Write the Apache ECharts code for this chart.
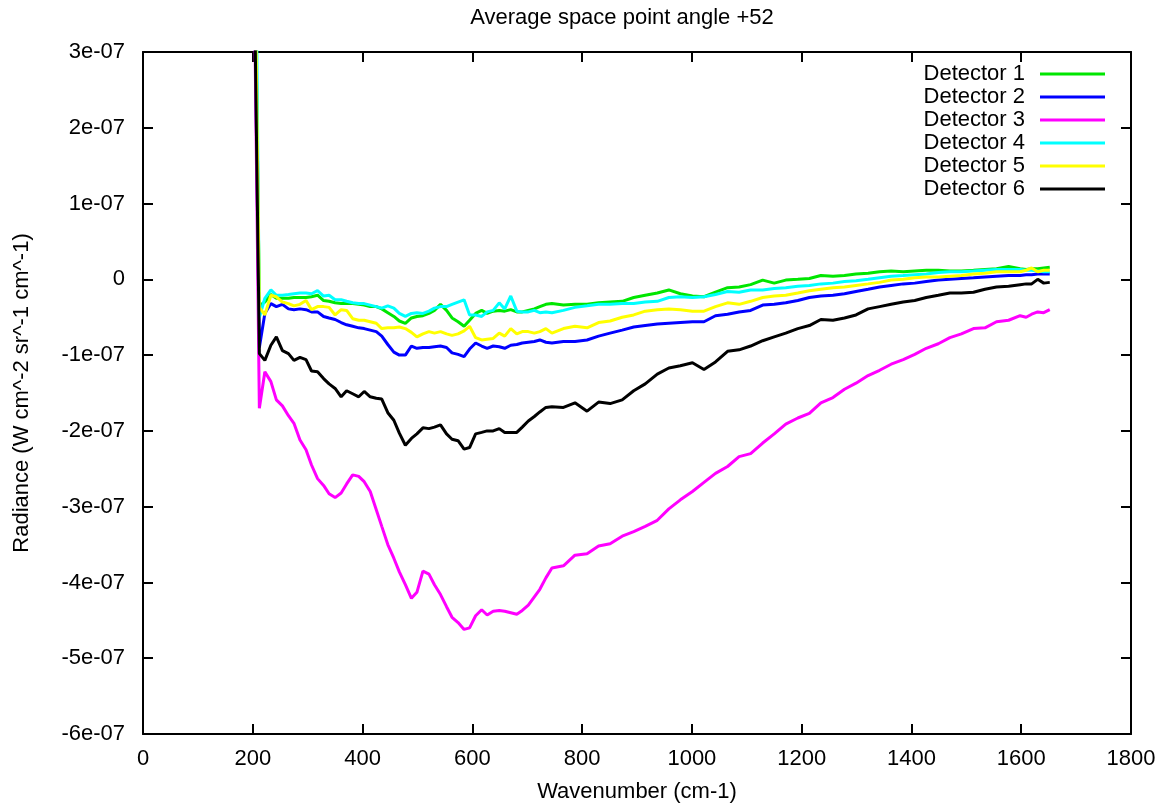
<!DOCTYPE html>
<html><head><meta charset="utf-8">
<script src="https://cdn.jsdelivr.net/npm/echarts@6/dist/echarts.min.js"></script>
<style>html,body{margin:0;padding:0;background:#fff}#c{width:1167px;height:808px}</style>
</head><body><div id="c"></div>
<script>
// Wavenumber (cm-1) sample positions
const wavenumber = [201,
 212,222,233,243,254,265,275,286,297,307,318,329,339,350,361,371,382,393,403,414,
 425,435,446,457,467,478,489,499,510,521,531,542,553,563,574,585,595,606,617,627,
 638,649,659,670,681,691,702,713,723,734,745,
 766,787,809,830,851,873,894,915,937,958,979,1001,1022,1043,1065,1086,1107,1129,1150,1171,
 1193,1214,1235,1257,1278,1299,1321,1342,1363,1385,1406,1427,1449,1470,1491,1513,1534,1555,1577,1598,
 1609,1619,1630,1641,1652];

// Radiance values in units of 1e-7 W cm^-2 sr^-1 cm^-1
const detector1 = [6,
 -0.35,-0.30,-0.20,-0.25,-0.25,-0.25,-0.24,-0.24,-0.24,-0.23,-0.21,-0.28,-0.29,-0.31,-0.32,-0.32,-0.32,-0.33,-0.34,-0.36,
 -0.36,-0.39,-0.44,-0.49,-0.55,-0.58,-0.51,-0.49,-0.48,-0.45,-0.41,-0.33,-0.41,-0.51,-0.56,-0.62,-0.54,-0.45,-0.41,-0.45,
 -0.42,-0.41,-0.42,-0.40,-0.43,-0.43,-0.41,-0.39,-0.36,-0.33,-0.32,
 -0.34,-0.33,-0.33,-0.31,-0.30,-0.29,-0.24,-0.21,-0.18,-0.14,-0.19,-0.22,-0.23,-0.17,-0.11,-0.10,-0.07,-0.01,-0.05,-0.01,
 0.00,0.01,0.05,0.04,0.05,0.07,0.08,0.10,0.11,0.10,0.11,0.12,0.12,0.11,0.11,0.12,0.13,0.14,0.17,0.14,
 0.13,0.14,0.14,0.15,0.16];
const detector2 = [5,
 -0.90,-0.45,-0.32,-0.36,-0.33,-0.39,-0.40,-0.39,-0.40,-0.43,-0.43,-0.49,-0.51,-0.53,-0.57,-0.60,-0.62,-0.64,-0.65,-0.67,
 -0.69,-0.75,-0.86,-0.96,-1.00,-1.00,-0.88,-0.91,-0.90,-0.90,-0.89,-0.88,-0.90,-0.97,-0.99,-1.02,-0.92,-0.84,-0.88,-0.91,
 -0.88,-0.89,-0.91,-0.87,-0.86,-0.84,-0.83,-0.82,-0.80,-0.83,-0.84,
 -0.82,-0.82,-0.80,-0.75,-0.71,-0.67,-0.63,-0.61,-0.59,-0.58,-0.57,-0.56,-0.56,-0.48,-0.46,-0.43,-0.41,-0.34,-0.33,-0.31,
 -0.28,-0.24,-0.22,-0.21,-0.19,-0.16,-0.13,-0.10,-0.08,-0.06,-0.05,-0.03,-0.01,0.00,0.01,0.02,0.03,0.04,0.05,0.05,
 0.06,0.06,0.07,0.07,0.07];
const detector3 = [5,
 -1.70,-1.22,-1.35,-1.59,-1.67,-1.80,-1.90,-2.12,-2.25,-2.45,-2.63,-2.72,-2.83,-2.88,-2.82,-2.70,-2.58,-2.60,-2.67,-2.80,
 -3.04,-3.26,-3.50,-3.68,-3.86,-4.03,-4.21,-4.13,-3.85,-3.89,-4.03,-4.16,-4.32,-4.46,-4.53,-4.62,-4.60,-4.44,-4.36,-4.43,
 -4.38,-4.37,-4.38,-4.40,-4.42,-4.37,-4.30,-4.19,-4.09,-3.94,-3.81,
 -3.78,-3.64,-3.62,-3.52,-3.49,-3.39,-3.33,-3.26,-3.18,-3.03,-2.91,-2.80,-2.68,-2.56,-2.47,-2.34,-2.30,-2.16,-2.04,-1.91,
 -1.83,-1.77,-1.63,-1.56,-1.45,-1.37,-1.27,-1.20,-1.12,-1.06,-0.99,-0.91,-0.85,-0.77,-0.72,-0.65,-0.64,-0.56,-0.54,-0.48,
 -0.50,-0.46,-0.43,-0.44,-0.40];
const detector4 = [8,
 -0.50,-0.25,-0.14,-0.21,-0.21,-0.20,-0.19,-0.18,-0.18,-0.19,-0.15,-0.22,-0.21,-0.27,-0.27,-0.29,-0.31,-0.32,-0.32,-0.34,
 -0.36,-0.38,-0.35,-0.38,-0.45,-0.49,-0.45,-0.44,-0.45,-0.42,-0.38,-0.36,-0.36,-0.33,-0.30,-0.27,-0.47,-0.47,-0.49,-0.43,
 -0.41,-0.31,-0.39,-0.22,-0.42,-0.43,-0.43,-0.41,-0.44,-0.43,-0.44,
 -0.41,-0.37,-0.35,-0.33,-0.33,-0.32,-0.32,-0.30,-0.29,-0.24,-0.23,-0.24,-0.23,-0.20,-0.16,-0.17,-0.14,-0.14,-0.12,-0.11,
 -0.09,-0.08,-0.06,-0.05,-0.03,-0.02,0.00,0.02,0.04,0.05,0.06,0.07,0.09,0.10,0.10,0.11,0.12,0.13,0.13,0.13,
 0.12,0.12,0.11,0.10,0.10];
const detector5 = [6,
 -0.37,-0.47,-0.21,-0.23,-0.30,-0.32,-0.35,-0.33,-0.28,-0.40,-0.36,-0.36,-0.37,-0.47,-0.40,-0.41,-0.52,-0.54,-0.54,-0.56,
 -0.58,-0.65,-0.64,-0.64,-0.63,-0.65,-0.70,-0.76,-0.72,-0.69,-0.71,-0.69,-0.72,-0.74,-0.72,-0.68,-0.62,-0.77,-0.80,-0.79,
 -0.78,-0.71,-0.75,-0.65,-0.72,-0.69,-0.69,-0.71,-0.69,-0.65,-0.71,
 -0.65,-0.62,-0.64,-0.57,-0.55,-0.50,-0.47,-0.42,-0.40,-0.39,-0.40,-0.42,-0.42,-0.36,-0.31,-0.33,-0.29,-0.24,-0.22,-0.21,
 -0.18,-0.15,-0.13,-0.11,-0.10,-0.08,-0.06,-0.04,-0.01,0.00,0.02,0.03,0.03,0.04,0.05,0.07,0.08,0.10,0.10,0.10,
 0.12,0.15,0.10,0.12,0.12];
const detector6 = [5,
 -0.98,-1.07,-0.87,-0.76,-0.94,-0.98,-1.07,-1.03,-1.06,-1.21,-1.22,-1.31,-1.38,-1.44,-1.55,-1.47,-1.51,-1.55,-1.48,-1.55,
 -1.57,-1.58,-1.76,-1.86,-2.03,-2.19,-2.10,-2.04,-1.96,-1.97,-1.95,-1.92,-2.04,-2.11,-2.13,-2.24,-2.22,-2.04,-2.02,-2.00,
 -2.00,-1.97,-2.02,-2.02,-2.02,-1.95,-1.87,-1.81,-1.75,-1.69,-1.68,
 -1.69,-1.63,-1.74,-1.62,-1.64,-1.59,-1.47,-1.38,-1.25,-1.17,-1.14,-1.10,-1.19,-1.09,-0.95,-0.93,-0.88,-0.81,-0.76,-0.71,
 -0.65,-0.61,-0.53,-0.54,-0.51,-0.47,-0.39,-0.36,-0.33,-0.30,-0.28,-0.24,-0.21,-0.18,-0.18,-0.17,-0.13,-0.10,-0.09,-0.07,
 -0.06,-0.06,0.00,-0.05,-0.04];

const UNIT = 1e-7;
const seriesNames = ['Detector 1','Detector 2','Detector 3','Detector 4','Detector 5','Detector 6'];
const seriesValues = [detector1, detector2, detector3, detector4, detector5, detector6];
const seriesColors = ['#00e600','#0000ff','#ff00ff','#00ffff','#ffff00','#000000'];
const titleText = 'Average space point angle +52';
const xName = 'Wavenumber (cm-1)';
const yName = 'Radiance (W cm^-2 sr^-1 cm^-1)';
const xMin = 0, xMax = 1800, xStep = 200;
const yMin = -6e-7, yMax = 3e-7, yStep = 1e-7;

const FONT = "'Liberation Sans', Arial, sans-serif";
const FS = 22;
const chart = echarts.init(document.getElementById('c'), null, {renderer: 'canvas'});

function yFmt(v) {
  const n = Math.round(v / UNIT);
  return n === 0 ? '0' : n + 'e-07';
}
function xFmt(v) { return String(Math.round(v)); }
const tick = {show: true, inside: true, length: 10, lineStyle: {color: '#000', width: 2}};
const line = {show: true, onZero: false, lineStyle: {color: '#000', width: 2}};
const lbl = {color: '#000', fontFamily: FONT, fontSize: FS};

chart.setOption({
  animation: false,
  backgroundColor: '#fff',
  graphic: [{type: 'text', x: 622, y: 18, style: {text: titleText, fill: '#000', font: FS + 'px ' + FONT, textAlign: 'center', textVerticalAlign: 'middle'}}],
  grid: {left: 143, right: 36, top: 52, bottom: 74, containLabel: false},
  legend: {
    orient: 'vertical', right: 62, top: 63, padding: 0,
    align: 'right', itemWidth: 65, itemHeight: 3, itemGap: 1, icon: 'rect',
    data: seriesNames,
    textStyle: {color: '#000', fontFamily: FONT, fontSize: FS, lineHeight: 20, padding: [0, 10, 0, 0]}
  },
  xAxis: [
    {type: 'value', min: xMin, max: xMax, interval: xStep, position: 'bottom',
     name: xName, nameLocation: 'middle', nameGap: 47, nameTextStyle: lbl,
     axisLine: line, axisTick: tick, axisLabel: Object.assign({margin: 14, formatter: xFmt}, lbl), splitLine: {show: false}},
    {type: 'value', min: xMin, max: xMax, interval: xStep, position: 'top',
     axisLine: line, axisTick: tick, axisLabel: {show: false}, splitLine: {show: false}}
  ],
  yAxis: [
    {type: 'value', min: yMin, max: yMax, interval: yStep, position: 'left',
     name: yName, nameLocation: 'middle', nameRotate: 90, nameGap: 110, nameTextStyle: lbl,
     axisLine: line, axisTick: tick, axisLabel: Object.assign({margin: 18, formatter: yFmt}, lbl), splitLine: {show: false}},
    {type: 'value', min: yMin, max: yMax, interval: yStep, position: 'right',
     axisLine: line, axisTick: tick, axisLabel: {show: false}, splitLine: {show: false}}
  ],
  series: seriesNames.map((name, i) => ({
    name: name, type: 'line', xAxisIndex: 0, yAxisIndex: 0,
    symbol: 'none', showSymbol: false, clip: true,
    color: seriesColors[i],
    lineStyle: {color: seriesColors[i], width: 3},
    data: wavenumber.map((w, j) => [w, seriesValues[i][j] * UNIT])
  }))
});
</script></body></html>
